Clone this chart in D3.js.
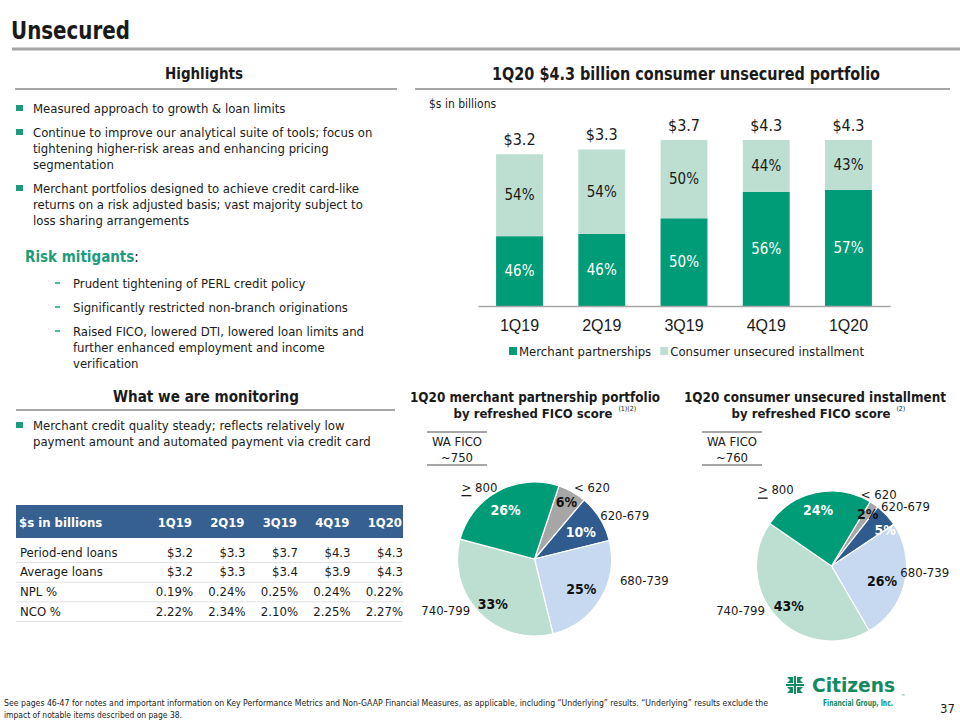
<!DOCTYPE html>
<html><head><meta charset="utf-8">
<script src="https://cdn.jsdelivr.net/npm/d3@7"></script>
<style>
body{margin:0;background:#fff;}
svg{display:block;font-family:"DejaVu Sans Condensed","DejaVu Sans",sans-serif;font-stretch:condensed;font-variant-ligatures:none;}
</style></head><body>
<svg id="c" width="960" height="720"></svg>
<script>
// ---------- DATA ----------
const quarters = ["1Q19","2Q19","3Q19","4Q19","1Q20"];
const totalLabels = ["$3.2","$3.3","$3.7","$4.3","$4.3"];
const totals = [3.2,3.3,3.7,4.3,4.3];
const merchantPct = [46,46,50,56,57];
const consumerPct = [54,54,50,44,43];
const seriesNames = ["Merchant partnerships","Consumer unsecured installment"];
const yAxisMax = 3.5; // value axis max of the original chart (taller bars are clipped)

const tableHeader = ["$s in billions","1Q19","2Q19","3Q19","4Q19","1Q20"];
const rowLabels = ["Period-end loans","Average loans","NPL %","NCO %"];
const periodEndLoans = ["$3.2","$3.3","$3.7","$4.3","$4.3"];
const averageLoans = ["$3.2","$3.3","$3.4","$3.9","$4.3"];
const nplPct = ["0.19%","0.24%","0.25%","0.24%","0.22%"];
const ncoPct = ["2.22%","2.34%","2.10%","2.25%","2.27%"];

const ficoBands = ["< 620","620-679","680-739","740-799","≥ 800"];
const merchantFico = [6,10,25,33,26];
const consumerFico = [2,5,26,43,24];
const waFico = ["~750","~760"];

const highlights = [
  ["Measured approach to growth & loan limits"],
  ["Continue to improve our analytical suite of tools; focus on","tightening higher-risk areas and enhancing pricing","segmentation"],
  ["Merchant portfolios designed to achieve credit card-like","returns on a risk adjusted basis; vast majority subject to","loss sharing arrangements"]
];
const mitigants = [
  ["Prudent tightening of PERL credit policy"],
  ["Significantly restricted non-branch originations"],
  ["Raised FICO, lowered DTI, lowered loan limits and","further enhanced employment and income","verification"]
];
const monitoring = [
  ["Merchant credit quality steady; reflects relatively low","payment amount  and automated payment via credit card"]
];
const footnote = [
  "See pages 46-47 for notes and important information on Key Performance Metrics and Non-GAAP Financial Measures, as applicable, including \u201cUnderlying\u201d results. \u201cUnderlying\u201d results exclude the",
  "impact of notable items described on page 38."
];

// ---------- STYLE ----------
const C = {
  green:"#009b77", light:"#bddfd1", blue:"#2f5b8e", lblue:"#c6d9f0", gray:"#a6a6a6",
  rule:"#a6a6a6", text:"#1a1a1a", accent:"#1e9b7c", header:"#36608f", logo:"#128a62"
};
const ficoColors = [C.gray, C.blue, C.lblue, C.light, C.green];
const ficoText = ["#111","#fff","#111","#111","#fff"];
const BODY = 13;

const svg = d3.select("#c");

function fit(sel, w){ sel.attr("textLength", w).attr("lengthAdjust","spacingAndGlyphs"); return sel; }
function rule(x1,x2,y,w,col){ svg.append("line").attr("x1",x1).attr("x2",x2).attr("y1",y).attr("y2",y).attr("stroke",col||C.rule).attr("stroke-width",w); }
function txt(x,y,s,o={}){
  return svg.append("text").attr("x",x).attr("y",y).attr("dominant-baseline","central")
    .attr("font-size",o.size||BODY).attr("font-weight",o.weight||"normal")
    .attr("fill",o.fill||C.text).attr("text-anchor",o.anchor||"start").text(s);
}

// ---------- Slide title ----------
fit(txt(11,30,"Unsecured",{size:25,weight:"bold"}),119);
rule(12,960,49,3);

// ---------- Left column ----------
fit(txt(204,73,"Highlights",{size:16.5,weight:"bold",anchor:"middle"}),78);
rule(15,397,89,2);

function bulletBlock(items, startY, gapLine, gapItem, marker){
  let y = startY;
  items.forEach(lines=>{
    if(marker==="square"){
      svg.append("rect").attr("x",16).attr("y",y-3).attr("width",7).attr("height",6).attr("fill",C.accent);
    } else {
      svg.append("rect").attr("x",55).attr("y",y-0.75).attr("width",5).attr("height",1.5).attr("fill",C.accent);
    }
    lines.forEach((l,k)=>{ txt(marker==="square"?33:73, y+k*gapLine, l); });
    y += (lines.length-1)*gapLine + gapItem;
  });
}
bulletBlock(highlights,108,16,24,"square");

const rm = svg.append("text").attr("x",25).attr("y",257).attr("dominant-baseline","central").attr("font-size",15).attr("font-weight","bold");
rm.append("tspan").attr("fill",C.accent).text("Risk mitigants");
rm.append("tspan").attr("fill",C.text).attr("font-weight","normal").text(":");
bulletBlock(mitigants,283,16,24,"dash");

fit(txt(206,396,"What we are monitoring",{size:16.5,weight:"bold",anchor:"middle"}),186);
rule(16,395,410,2);
bulletBlock(monitoring,425,16,24,"square");

// ---------- Table ----------
const tableRows = [periodEndLoans, averageLoans, nplPct, ncoPct];
const colRight = d3.scaleLinear().domain([0,4]).range([193,403]);
svg.append("rect").attr("x",16).attr("y",505).attr("width",387).attr("height",33).attr("fill",C.header);
txt(19,522,tableHeader[0],{weight:"bold",fill:"#fff"});
tableHeader.slice(1).forEach((h,i)=>txt(colRight(i)-1,522,h,{weight:"bold",fill:"#fff",anchor:"end"}));
const rowY = d3.scaleLinear().domain([0,3]).range([552,611]);
tableRows.forEach((row,r)=>{
  txt(20,rowY(r),rowLabels[r]);
  row.forEach((v,i)=>txt(colRight(i),rowY(r),v,{anchor:"end"}));
  rule(16,403,rowY(r)+10.5,0.8,"#d9d9d9");
});

// ---------- Bar chart ----------
fit(txt(686,73,"1Q20 $4.3 billion consumer unsecured portfolio",{size:18,weight:"bold",anchor:"middle"}),388);
rule(415,950,89,2);
txt(429,104,"$s in billions",{size:12});

const x = d3.scaleBand().domain(quarters).range([478,890]).paddingInner(0.43).paddingOuter(0.22);
const y = d3.scaleLinear().domain([0,yAxisMax]).range([306,140]).clamp(true);
const rows = quarters.map((q,i)=>({q, merchant: totals[i]*merchantPct[i]/100, consumer: totals[i]*consumerPct[i]/100, mp:merchantPct[i], cp:consumerPct[i]}));
const series = d3.stack().keys(["merchant","consumer"])(rows);
const barColors = [C.green, C.light];
const bars = svg.append("g");
series.forEach((s,si)=>{
  bars.selectAll(null).data(s).join("rect")
    .attr("x",d=>x(d.data.q)).attr("width",x.bandwidth())
    .attr("y",d=>y(d[1])).attr("height",d=>y(d[0])-y(d[1])).attr("fill",barColors[si]);
  bars.selectAll(null).data(s).join("text")
    .attr("x",d=>x(d.data.q)+x.bandwidth()/2).attr("y",d=>(y(d[0])+y(d[1]))/2)
    .attr("text-anchor","middle").attr("dominant-baseline","central").attr("font-size",15)
    .attr("fill",si===0?"#fff":C.text).text(d=>(si===0?d.data.mp:d.data.cp)+"%");
});
bars.selectAll(null).data(quarters).join("text")
  .attr("x",q=>x(q)+x.bandwidth()/2).attr("y",(q,i)=>y(totals[i])-15)
  .attr("text-anchor","middle").attr("dominant-baseline","central").attr("font-size",16)
  .attr("fill",C.text).text((q,i)=>totalLabels[i]);
const ax = svg.append("g").attr("transform","translate(0,306)")
  .call(d3.axisBottom(x).tickSize(0).tickSizeOuter(0).tickPadding(14));
ax.select(".domain").attr("stroke",C.rule).attr("stroke-width",1.5);
ax.selectAll("text").attr("font-size",16).attr("font-family",null).attr("fill",C.text);

// legend
let lx = 509;
seriesNames.forEach((n,i)=>{
  svg.append("rect").attr("x",lx).attr("y",347).attr("width",8).attr("height",8).attr("fill",barColors[i]);
  const t = txt(lx+10,351,n,{size:13});
  lx += 10 + t.node().getComputedTextLength() + 9;
});

// ---------- Pies ----------
function drawPie(o){
  fit(txt(o.tx,397,o.title[0],{size:14,weight:"bold",anchor:"middle"}),o.tw[0]);
  const t2 = txt(o.t2x,413,o.title[1],{size:13,weight:"bold",anchor:"middle"});
  const w2 = t2.node().getComputedTextLength();
  txt(o.t2x+w2/2+6,409,o.sup,{size:7});
  // WA FICO box
  rule(o.bx,o.bx+60,432,2); rule(o.bx,o.bx+60,465,2);
  txt(o.bx+30,441,"WA FICO",{size:13,anchor:"middle"});
  txt(o.bx+30,457,o.wa,{size:13,anchor:"middle"});

  const a0 = o.start*Math.PI/180;
  const arcs = d3.pie().sort(null).startAngle(a0).endAngle(a0+2*Math.PI)(o.values);
  const arc = d3.arc().innerRadius(0).outerRadius(o.r);
  const lab = (d,k)=>d3.arc().innerRadius(o.r*k).outerRadius(o.r*k).centroid(d);
  const outer = d3.arc().innerRadius(o.r*1.18).outerRadius(o.r*1.18);
  const g = svg.append("g").attr("transform",`translate(${o.cx},${o.cy})`);
  g.selectAll("path").data(arcs).join("path").attr("d",arc)
    .attr("fill",(d,i)=>ficoColors[i]).attr("stroke","#fff").attr("stroke-width",1.2);
  g.selectAll(".pct").data(arcs).join("text")
    .attr("transform",(d,i)=>{const c=lab(d, d.data<=6?0.85:o.k);return `translate(${c[0]+o.pnudge[i][0]},${c[1]+o.pnudge[i][1]})`;})
    .attr("text-anchor","middle").attr("dominant-baseline","central")
    .attr("font-size",14).attr("font-weight","bold")
    .attr("fill",(d,i)=>ficoText[i]).text(d=>d.data+"%");
  g.selectAll(".lab").data(arcs).join("text")
    .attr("transform",(d,i)=>{const c=outer.centroid(d);return `translate(${c[0]+o.nudge[i][0]},${c[1]+o.nudge[i][1]})`;})
    .attr("text-anchor","middle").attr("dominant-baseline","central").attr("font-size",13).attr("fill",C.text)
    .each(function(d,i){
      const s = ficoBands[i], el = d3.select(this);
      if(s.startsWith("≥")){
        el.append("tspan").attr("text-decoration","underline").text(">");
        el.append("tspan").text(s.slice(1));
      } else el.text(s);
    });
}
drawPie({title:["1Q20 merchant partnership portfolio","by refreshed FICO score"],tw:[250],sup:"(1)(2)",tx:535,t2x:533,bx:427,wa:waFico[0],
  values:merchantFico,cx:534.5,cy:559,r:77,start:18.5,k:0.74,
  pnudge:[[0,0],[-2,3],[-2,1],[-1,5],[-2,1]],
  nudge:[[13,8],[13,5],[32,-25],[-24,-12],[-12,8]]});
drawPie({title:["1Q20 consumer unsecured installment","by refreshed FICO score"],tw:[262],sup:"(2)",tx:815,t2x:811,bx:702,wa:waFico[1],
  values:consumerFico,cx:831.5,cy:566,r:75,start:31,k:0.72,
  pnudge:[[0,0],[7,7],[-2,3],[-3,3],[-2,-3]],
  nudge:[[-3,1],[9,1],[7,-13],[-26,-16],[-37,10]]});

// ---------- Footer ----------
fit(txt(4,703,footnote[0],{size:9}),764);
fit(txt(4,715,footnote[1],{size:9}),178);
// logo
const lg = svg.append("g").attr("transform","translate(795,685)").attr("fill",C.logo);
[[-1,-1],[1,-1],[-1,1],[1,1]].forEach(([sx,sy])=>{
  lg.append("path").attr("d",`M${sx*2},${sy*2} L${sx*8},${sy*2} L${sx*5},${sy*5} L${sx*8},${sy*8} L${sx*2},${sy*8} L${sx*2},${sy*2}Z`);
});
lg.append("rect").attr("x",-9).attr("y",-1).attr("width",18).attr("height",2);
lg.append("rect").attr("x",-1).attr("y",-9).attr("width",2).attr("height",18);
fit(txt(812,685,"Citizens",{size:20,weight:"bold",fill:C.logo}),83);
fit(txt(823,703,"Financial Group, Inc.",{size:9,weight:"bold",fill:C.logo}),70);
txt(901,696,"\u2122",{size:5,fill:C.logo});
txt(940,708,"37",{size:13});
</script>
</body></html>
